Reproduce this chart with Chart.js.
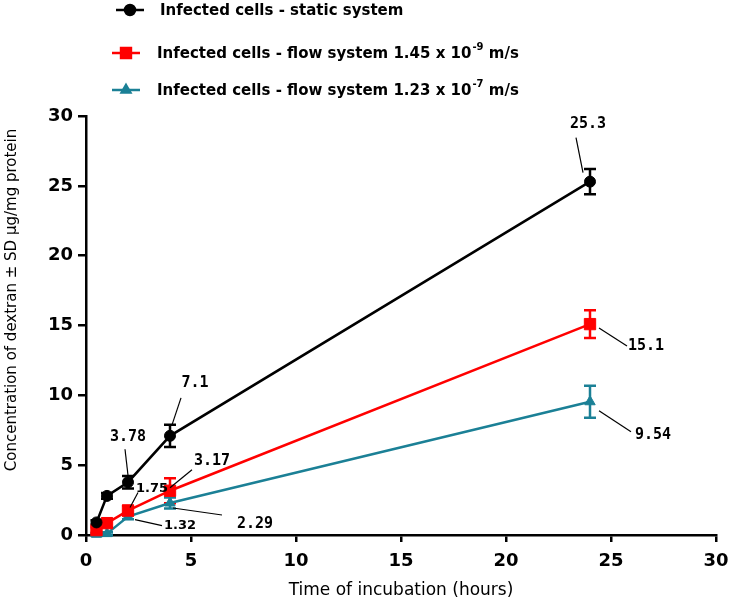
<!DOCTYPE html>
<html>
<head>
<meta charset="utf-8">
<title>Dextran uptake</title>
<script src="https://cdn.jsdelivr.net/npm/chart.js@4.4.1/dist/chart.umd.min.js"></script>
<style>
    html, body { margin: 0; padding: 0; background: #fff; }
    #wrap { width: 729px; height: 605px; }
</style>
</head>
<body>
<div id="wrap"><canvas id="dextran-chart" width="729" height="605"></canvas></div>
<script>
// time points (hours)
const hours = [0.5, 1, 2, 4, 24];

// series values and SD
const staticValues = [0.9, 2.8, 3.78, 7.1, 25.3];
const staticSd = [0.15, 0.2, 0.45, 0.8, 0.9];
const flowSlowValues = [0.35, 0.85, 1.75, 3.17, 15.1];
const flowSlowSd = [0.2, 0.3, 0.35, 0.9, 1.0];
const flowFastValues = [0.05, 0.1, 1.32, 2.29, 9.54];
const flowFastSd = [0.1, 0.1, 0.2, 0.4, 1.15];

// legend text, split as [before superscript, superscript, after]
const staticLabel = ['Infected cells - static system', '', ''];
const flowSlowLabel = ['Infected cells - flow system 1.45 x 10', '-9', ' m/s'];
const flowFastLabel = ['Infected cells - flow system 1.23 x 10', '-7', ' m/s'];

const xTicks = [0, 5, 10, 15, 20, 25, 30];
const yTicks = [0, 5, 10, 15, 20, 25, 30];

const xTitle = 'Time of incubation (hours)';
const yTitle = 'Concentration of dextran \u00b1 SD \u00b5g/mg protein';

(function() {
    'use strict';

    const BLACK = '#000000';
    const RED = '#ff0000';
    const TEAL = '#1b8096';

    const FONT = '"DejaVu Sans", Verdana, sans-serif';
    const MONO = '"DejaVu Sans Mono", monospace';

    function toPoints(values) {
        return hours.map((h, i) => ({ x: h, y: values[i] }));
    }

    /**
     * Error bars, drawn before the lines so the markers sit on top
     */
    const errorBars = {
        id: 'errorBars',
        beforeDatasetsDraw(chart) {
            const ctx = chart.ctx;
            const yScale = chart.scales.y;
            chart.data.datasets.forEach((ds, di) => {
                const meta = chart.getDatasetMeta(di);
                ctx.save();
                ctx.strokeStyle = ds.borderColor;
                ctx.lineWidth = 2.5;
                meta.data.forEach((pt, i) => {
                    const v = ds.data[i].y;
                    const sd = ds.sd[i];
                    const top = yScale.getPixelForValue(v + sd);
                    const bot = yScale.getPixelForValue(v - sd);
                    ctx.beginPath();
                    ctx.moveTo(pt.x, top);
                    ctx.lineTo(pt.x, bot);
                    ctx.moveTo(pt.x - 6, top);
                    ctx.lineTo(pt.x + 6, top);
                    ctx.moveTo(pt.x - 6, bot);
                    ctx.lineTo(pt.x + 6, bot);
                    ctx.stroke();
                });
                ctx.restore();
            });
        }
    };

    /**
     * Value labels with leader lines; offsets are pixels from the point
     */
    const valueLabels = {
        id: 'valueLabels',
        afterDraw(chart) {
            const ctx = chart.ctx;
            const spots = [
                { ds: 0, i: 4, lx: -2, ly: -58, a: [-14, -44], b: [-7, -9], small: false },
                { ds: 1, i: 4, lx: 56, ly: 22, a: [9, 4], b: [37, 22], small: false },
                { ds: 2, i: 4, lx: 63, ly: 33, a: [9, 9], b: [41, 30], small: false },
                { ds: 0, i: 3, lx: 25, ly: -53, a: [11, -38], b: [2, -11], small: false },
                { ds: 0, i: 2, lx: 0, ly: -45, a: [-3, -33], b: [0, -7], small: false },
                { ds: 1, i: 3, lx: 42, ly: -30, a: [22, -21], b: [0, -3], small: false },
                { ds: 1, i: 2, lx: 24, ly: -22, a: [10, -18], b: [2, -3], small: true },
                { ds: 2, i: 2, lx: 52, ly: 9, a: [7, 3], b: [34, 9], small: true },
                { ds: 2, i: 3, lx: 85, ly: 21, a: [3, 5], b: [52, 12], small: false }
            ];
            ctx.save();
            ctx.fillStyle = '#000';
            ctx.strokeStyle = '#000';
            ctx.lineWidth = 1.2;
            ctx.textAlign = 'center';
            ctx.textBaseline = 'middle';
            spots.forEach(s => {
                const pt = chart.getDatasetMeta(s.ds).data[s.i];
                const text = String(chart.data.datasets[s.ds].data[s.i].y);
                ctx.beginPath();
                ctx.moveTo(pt.x + s.a[0], pt.y + s.a[1]);
                ctx.lineTo(pt.x + s.b[0], pt.y + s.b[1]);
                ctx.stroke();
                ctx.font = s.small ? 'bold 13px ' + FONT : 'bold 15px ' + MONO;
                ctx.fillText(text, pt.x + s.lx, pt.y + s.ly);
            });
            ctx.restore();
        }
    };

    /**
     * Legend at the top, with superscripts, and both axis titles
     */
    const legendAndTitles = {
        id: 'legendAndTitles',
        afterDraw(chart) {
            const ctx = chart.ctx;
            const area = chart.chartArea;
            const rows = [
                { y: 10, x0: 116, tx: 160 },
                { y: 53, x0: 112, tx: 157 },
                { y: 90, x0: 112, tx: 157 }
            ];
            ctx.save();
            chart.data.datasets.forEach((ds, di) => {
                const r = rows[di];
                ctx.strokeStyle = ds.borderColor;
                ctx.fillStyle = ds.backgroundColor;
                ctx.lineWidth = 2.5;
                ctx.beginPath();
                ctx.moveTo(r.x0, r.y);
                ctx.lineTo(r.x0 + 28, r.y);
                ctx.stroke();
                Chart.helpers.drawPoint(ctx, {
                    pointStyle: ds.pointStyle,
                    radius: ds.pointStyle === 'rect' ? 7 : 5,
                    rotation: 0,
                    borderWidth: 1
                }, r.x0 + 14, r.y);

                const parts = ds.legendParts;
                ctx.fillStyle = '#000';
                ctx.textAlign = 'left';
                ctx.textBaseline = 'middle';
                ctx.font = '600 15px ' + FONT;
                let x = r.tx;
                ctx.fillText(parts[0], x, r.y + 1);
                x += ctx.measureText(parts[0]).width + 1;
                if (parts[1]) {
                    ctx.font = '600 10px ' + FONT;
                    ctx.fillText(parts[1], x, r.y - 6);
                    x += ctx.measureText(parts[1]).width;
                    ctx.font = '600 15px ' + FONT;
                    ctx.fillText(parts[2], x, r.y + 1);
                }
            });

            // axis titles
            ctx.fillStyle = '#000';
            ctx.textAlign = 'center';
            ctx.textBaseline = 'middle';
            ctx.font = '17px ' + FONT;
            ctx.fillText(xTitle, (area.left + area.right) / 2, 591);
            ctx.font = '15px ' + FONT;
            ctx.translate(12, 300);
            ctx.rotate(-Math.PI / 2);
            ctx.fillText(yTitle, 0, 0);
            ctx.restore();
        }
    };

    function initChart() {
        const canvas = document.getElementById('dextran-chart');
        const ctx = canvas.getContext('2d');

        const makeSet = (label, values, sd, color, style, radius) => ({
            label: label.join(''),
            legendParts: label,
            data: toPoints(values),
            sd: sd,
            borderColor: color,
            backgroundColor: color,
            borderWidth: 2.5,
            pointStyle: style,
            pointRadius: radius,
            pointBorderWidth: 1,
            tension: 0,
            clip: false
        });

        const tickFont = { family: FONT, size: 18, weight: 'bold' };

        const chart = new Chart(ctx, {
            type: 'line',
            data: {
                datasets: [
                    makeSet(staticLabel, staticValues, staticSd, BLACK, 'circle', 5.5),
                    makeSet(flowSlowLabel, flowSlowValues, flowSlowSd, RED, 'rect', 8),
                    makeSet(flowFastLabel, flowFastValues, flowFastSd, TEAL, 'triangle', 6)
                ]
            },
            options: {
                responsive: false,
                animation: false,
                layout: {
                    padding: { top: 116, right: 13, left: 0, bottom: 0 }
                },
                plugins: {
                    legend: { display: false },
                    tooltip: { enabled: false }
                },
                scales: {
                    x: {
                        type: 'linear',
                        min: 0,
                        max: 30,
                        afterBuildTicks: s => { s.ticks = xTicks.map(v => ({ value: v })); },
                        afterFit: s => {
                            s.height = 70;
                            s.paddingLeft = 0;
                            s.paddingRight = 0;
                        },
                        ticks: { color: '#000', font: tickFont, padding: 9, maxRotation: 0 },
                        grid: { drawOnChartArea: false, tickLength: 7, color: '#000', lineWidth: 2.5 },
                        border: { color: '#000', width: 2.5 }
                    },
                    y: {
                        type: 'linear',
                        min: 0,
                        max: 30,
                        afterBuildTicks: s => { s.ticks = yTicks.map(v => ({ value: v })); },
                        afterFit: s => { s.width = 86; },
                        ticks: { color: '#000', font: tickFont, padding: 5 },
                        grid: { drawOnChartArea: false, tickLength: 8, color: '#000', lineWidth: 2.5 },
                        border: { color: '#000', width: 2.5 }
                    }
                }
            },
            plugins: [errorBars, valueLabels, legendAndTitles]
        });

        canvas.chartInstance = chart;
    }

    initChart();
})();
</script>
</body>
</html>
